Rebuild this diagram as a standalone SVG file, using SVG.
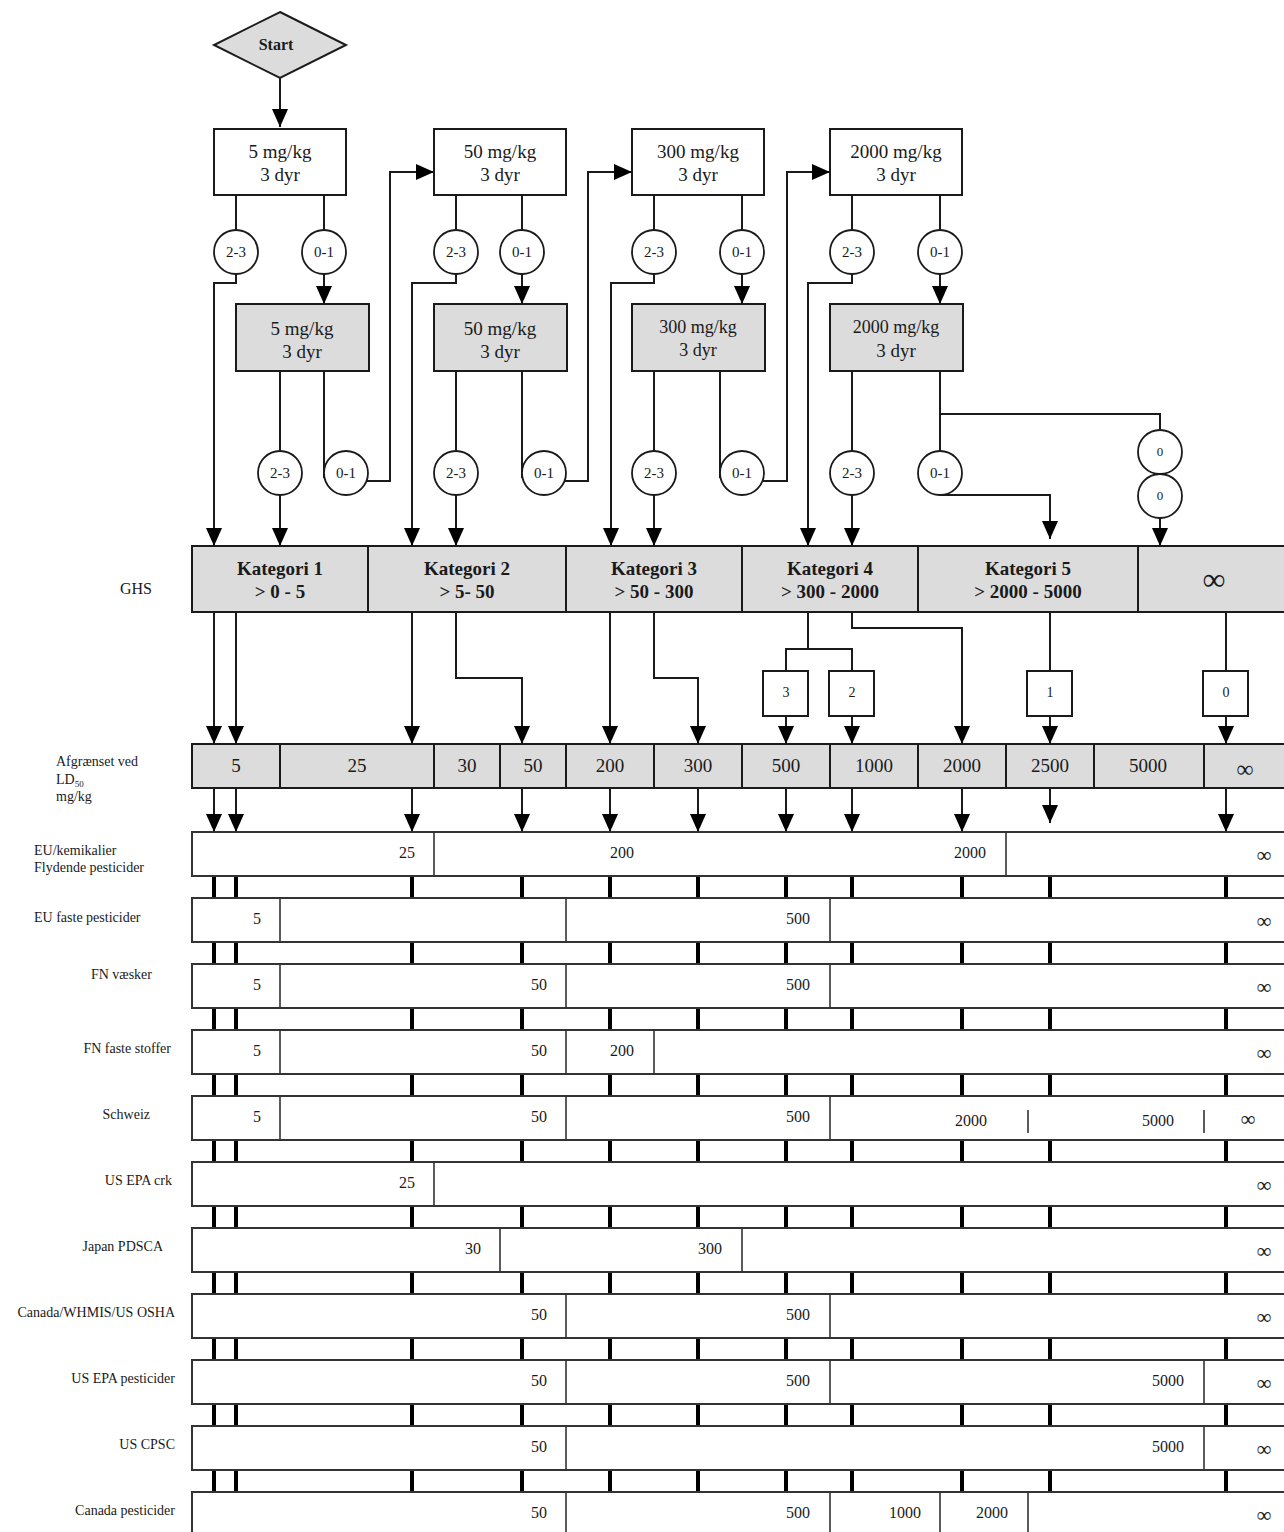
<svg xmlns="http://www.w3.org/2000/svg" width="1284" height="1532" viewBox="0 0 1284 1532">
<defs>
<marker id="ah" markerUnits="userSpaceOnUse" markerWidth="18" markerHeight="16" refX="18" refY="8" orient="auto"><path d="M0,0 L18,8 L0,16 z" fill="#000"/></marker>
<style>
text{font-family:"Liberation Serif","Times New Roman",serif;fill:#1a1a1a}
.b{font-weight:bold}
.m{text-anchor:middle}
.e{text-anchor:end}
.box{fill:#fff;stroke:#1a1a1a;stroke-width:2}
.gbox{fill:#dcdcdc;stroke:#1a1a1a;stroke-width:2}
.circ{fill:#fff;stroke:#1a1a1a;stroke-width:1.8}
.c{fill:none;stroke:#1a1a1a;stroke-width:2}
.ca{fill:none;stroke:#1a1a1a;stroke-width:2;marker-end:url(#ah)}
.tick{fill:none;stroke:#000;stroke-width:4}
.row{fill:#fff;stroke:#333;stroke-width:2}
.div{fill:none;stroke:#333;stroke-width:1.6}
.n19{font-size:19px}
.n16{font-size:16px}
.n14{font-size:14px}
.n13{font-size:15px}
.inf{font-size:21px}
</style>
</defs>
<rect width="1284" height="1532" fill="#fff"/>

<g id="connectors">
<path class="ca" d="M280,78 V127"/>
<path class="c" d="M236,195 V230 M324,195 V230"/>
<path class="ca" d="M236,274 V283 H214 V546"/>
<path class="ca" d="M324,274 V304"/>
<path class="c" d="M280,371 V451"/>
<path class="ca" d="M280,495 V546"/>
<path class="c" d="M324,371 V478"/>
<path class="ca" d="M366,481 H390 V172 H434"/>

<path class="c" d="M456,195 V230 M522,195 V230"/>
<path class="ca" d="M456,274 V283 H412 V546"/>
<path class="ca" d="M522,274 V304"/>
<path class="c" d="M456,371 V451"/>
<path class="ca" d="M456,495 V546"/>
<path class="c" d="M522,371 V478"/>
<path class="ca" d="M564,481 H588 V172 H632"/>

<path class="c" d="M654,195 V230 M742,195 V230"/>
<path class="ca" d="M654,274 V283 H611 V546"/>
<path class="ca" d="M742,274 V304"/>
<path class="c" d="M654,371 V451"/>
<path class="ca" d="M654,495 V546"/>
<path class="c" d="M720,371 V478"/>
<path class="ca" d="M762,481 H787 V172 H830"/>

<path class="c" d="M852,195 V230 M940,195 V230"/>
<path class="ca" d="M852,274 V283 H808 V546"/>
<path class="ca" d="M940,274 V304"/>
<path class="c" d="M852,371 V451"/>
<path class="ca" d="M852,495 V546"/>
<path class="c" d="M940,371 V451 M940,414 H1160 V430"/>
<path class="ca" d="M1160,518 V546"/>
<path class="ca" d="M940,495 H1050 V539"/>

<path class="ca" d="M214,612 V744"/>
<path class="ca" d="M236,612 V744"/>
<path class="ca" d="M412,612 V744"/>
<path class="ca" d="M456,612 V678 H522 V744"/>
<path class="ca" d="M610,612 V744"/>
<path class="ca" d="M654,612 V678 H698 V744"/>
<path class="c" d="M808,612 V649 M786,671 V649 H852 V671"/>
<path class="ca" d="M786,716 V744"/>
<path class="ca" d="M852,716 V744"/>
<path class="ca" d="M852,612 V628 H962 V744"/>
<path class="c" d="M1050,612 V671"/>
<path class="ca" d="M1050,716 V744"/>
<path class="c" d="M1226,612 V671"/>
<path class="ca" d="M1226,716 V744"/>

<path class="ca" d="M214,788 V832"/>
<path class="ca" d="M236,788 V832"/>
<path class="ca" d="M412,788 V832"/>
<path class="ca" d="M522,788 V832"/>
<path class="ca" d="M610,788 V832"/>
<path class="ca" d="M698,788 V832"/>
<path class="ca" d="M786,788 V832"/>
<path class="ca" d="M852,788 V832"/>
<path class="ca" d="M962,788 V832"/>
<path class="ca" d="M1050,788 V823"/>
<path class="ca" d="M1226,788 V832"/>
</g>

<g id="start">
<polygon points="280,12 346,45 280,78 214,45" fill="#dcdcdc" stroke="#1a1a1a" stroke-width="2"/>
<text x="276" y="50" class="m b" font-size="16">Start</text>
</g>

<g id="dose5">
<rect class="box" x="214" y="129" width="132" height="66"/>
<text x="280" y="158" class="m n19">5 mg/kg</text><text x="280" y="181" class="m n19">3 dyr</text>
</g>
<g id="dose50">
<rect class="box" x="434" y="129" width="132" height="66"/>
<text x="500" y="158" class="m n19">50 mg/kg</text><text x="500" y="181" class="m n19">3 dyr</text>
</g>
<g id="dose300">
<rect class="box" x="632" y="129" width="132" height="66"/>
<text x="698" y="158" class="m n19">300 mg/kg</text><text x="698" y="181" class="m n19">3 dyr</text>
</g>
<g id="dose2000">
<rect class="box" x="830" y="129" width="132" height="66"/>
<text x="896" y="158" class="m n19">2000 mg/kg</text><text x="896" y="181" class="m n19">3 dyr</text>
</g>

<g id="top-circles">
<circle class="circ" cx="236" cy="252" r="22"/><text x="236" y="257" class="m n13">2-3</text>
<circle class="circ" cx="324" cy="252" r="22"/><text x="324" y="257" class="m n13">0-1</text>
<circle class="circ" cx="456" cy="252" r="22"/><text x="456" y="257" class="m n13">2-3</text>
<circle class="circ" cx="522" cy="252" r="22"/><text x="522" y="257" class="m n13">0-1</text>
<circle class="circ" cx="654" cy="252" r="22"/><text x="654" y="257" class="m n13">2-3</text>
<circle class="circ" cx="742" cy="252" r="22"/><text x="742" y="257" class="m n13">0-1</text>
<circle class="circ" cx="852" cy="252" r="22"/><text x="852" y="257" class="m n13">2-3</text>
<circle class="circ" cx="940" cy="252" r="22"/><text x="940" y="257" class="m n13">0-1</text>
</g>

<g id="redose5">
<rect class="gbox" x="236" y="304" width="133" height="67"/>
<text x="302" y="335" class="m n19">5 mg/kg</text><text x="302" y="358" class="m n19">3 dyr</text>
</g>
<g id="redose50">
<rect class="gbox" x="434" y="304" width="133" height="67"/>
<text x="500" y="335" class="m n19">50 mg/kg</text><text x="500" y="358" class="m n19">3 dyr</text>
</g>
<g id="redose300">
<rect class="gbox" x="632" y="304" width="133" height="67"/>
<text x="698" y="333" class="m" font-size="18">300 mg/kg</text><text x="698" y="356" class="m" font-size="18">3 dyr</text>
</g>
<g id="redose2000">
<rect class="gbox" x="830" y="304" width="133" height="67"/>
<text x="896" y="333" class="m" font-size="18">2000 mg/kg</text><text x="896" y="357" class="m n19">3 dyr</text>
</g>

<g id="bottom-circles">
<circle class="circ" cx="280" cy="473" r="22"/><text x="280" y="478" class="m n13">2-3</text>
<circle class="circ" cx="346" cy="473" r="22"/><text x="346" y="478" class="m n13">0-1</text>
<circle class="circ" cx="456" cy="473" r="22"/><text x="456" y="478" class="m n13">2-3</text>
<circle class="circ" cx="544" cy="473" r="22"/><text x="544" y="478" class="m n13">0-1</text>
<circle class="circ" cx="654" cy="473" r="22"/><text x="654" y="478" class="m n13">2-3</text>
<circle class="circ" cx="742" cy="473" r="22"/><text x="742" y="478" class="m n13">0-1</text>
<circle class="circ" cx="852" cy="473" r="22"/><text x="852" y="478" class="m n13">2-3</text>
<circle class="circ" cx="940" cy="473" r="22"/><text x="940" y="478" class="m n13">0-1</text>
<circle class="circ" cx="1160" cy="452" r="22"/><text x="1160" y="456" class="m" font-size="13">0</text>
<circle class="circ" cx="1160" cy="496" r="22"/><text x="1160" y="500" class="m" font-size="13">0</text>
</g>

<g id="ghs">
<text x="152" y="594" class="e n16">GHS</text>
<rect class="gbox" x="192" y="546" width="176" height="66"/>
<rect class="gbox" x="368" y="546" width="198" height="66"/>
<rect class="gbox" x="566" y="546" width="176" height="66"/>
<rect class="gbox" x="742" y="546" width="176" height="66"/>
<rect class="gbox" x="918" y="546" width="220" height="66"/>
<rect class="gbox" x="1138" y="546" width="170" height="66"/>
<text x="280" y="575" class="m b n19">Kategori 1</text><text x="280" y="598" class="m b n19">&gt; 0 - 5</text>
<text x="467" y="575" class="m b n19">Kategori 2</text><text x="467" y="598" class="m b n19">&gt; 5- 50</text>
<text x="654" y="575" class="m b n19">Kategori 3</text><text x="654" y="598" class="m b n19">&gt; 50 - 300</text>
<text x="830" y="575" class="m b n19">Kategori 4</text><text x="830" y="598" class="m b n19">&gt; 300 - 2000</text>
<text x="1028" y="575" class="m b n19">Kategori 5</text><text x="1028" y="598" class="m b n19">&gt; 2000 - 5000</text>
<text x="1214" y="590" class="m" font-size="32">∞</text>
</g>

<g id="classes">
<rect class="box" x="763" y="671" width="45" height="45"/><text x="786" y="697" class="m n14">3</text>
<rect class="box" x="829" y="671" width="45" height="45"/><text x="852" y="697" class="m n14">2</text>
<rect class="box" x="1027" y="671" width="45" height="45"/><text x="1050" y="697" class="m n14">1</text>
<rect class="box" x="1203" y="671" width="45" height="45"/><text x="1226" y="697" class="m n14">0</text>
</g>

<g id="ld50">
<text x="56" y="766" class="n14">Afgrænset ved</text>
<text x="56" y="784" class="n14">LD<tspan font-size="9" dy="3">50</tspan></text>
<text x="56" y="801" class="n14">mg/kg</text>
<rect class="gbox" x="192" y="744" width="88" height="44"/>
<rect class="gbox" x="280" y="744" width="154" height="44"/>
<rect class="gbox" x="434" y="744" width="66" height="44"/>
<rect class="gbox" x="500" y="744" width="66" height="44"/>
<rect class="gbox" x="566" y="744" width="88" height="44"/>
<rect class="gbox" x="654" y="744" width="88" height="44"/>
<rect class="gbox" x="742" y="744" width="88" height="44"/>
<rect class="gbox" x="830" y="744" width="88" height="44"/>
<rect class="gbox" x="918" y="744" width="88" height="44"/>
<rect class="gbox" x="1006" y="744" width="88" height="44"/>
<rect class="gbox" x="1094" y="744" width="110" height="44"/>
<rect class="gbox" x="1204" y="744" width="104" height="44"/>
<text x="236" y="772" class="m n19">5</text>
<text x="357" y="772" class="m n19">25</text>
<text x="467" y="772" class="m n19">30</text>
<text x="533" y="772" class="m n19">50</text>
<text x="610" y="772" class="m n19">200</text>
<text x="698" y="772" class="m n19">300</text>
<text x="786" y="772" class="m n19">500</text>
<text x="874" y="772" class="m n19">1000</text>
<text x="962" y="772" class="m n19">2000</text>
<text x="1050" y="772" class="m n19">2500</text>
<text x="1148" y="772" class="m n19">5000</text>
<text x="1245" y="777" class="m" font-size="24">∞</text>
</g>

<g id="ticks">
<path class="tick" d="M214,876V898M236,876V898M412,876V898M522,876V898M610,876V898M698,876V898M786,876V898M852,876V898M962,876V898M1050,876V898M1226,876V898
M214,942V964M236,942V964M412,942V964M522,942V964M610,942V964M698,942V964M786,942V964M852,942V964M962,942V964M1050,942V964M1226,942V964
M214,1008V1030M236,1008V1030M412,1008V1030M522,1008V1030M610,1008V1030M698,1008V1030M786,1008V1030M852,1008V1030M962,1008V1030M1050,1008V1030M1226,1008V1030
M214,1074V1096M236,1074V1096M412,1074V1096M522,1074V1096M610,1074V1096M698,1074V1096M786,1074V1096M852,1074V1096M962,1074V1096M1050,1074V1096M1226,1074V1096
M214,1140V1162M236,1140V1162M412,1140V1162M522,1140V1162M610,1140V1162M698,1140V1162M786,1140V1162M852,1140V1162M962,1140V1162M1050,1140V1162M1226,1140V1162
M214,1206V1228M236,1206V1228M412,1206V1228M522,1206V1228M610,1206V1228M698,1206V1228M786,1206V1228M852,1206V1228M962,1206V1228M1050,1206V1228M1226,1206V1228
M214,1272V1294M236,1272V1294M412,1272V1294M522,1272V1294M610,1272V1294M698,1272V1294M786,1272V1294M852,1272V1294M962,1272V1294M1050,1272V1294M1226,1272V1294
M214,1338V1360M236,1338V1360M412,1338V1360M522,1338V1360M610,1338V1360M698,1338V1360M786,1338V1360M852,1338V1360M962,1338V1360M1050,1338V1360M1226,1338V1360
M214,1404V1426M236,1404V1426M412,1404V1426M522,1404V1426M610,1404V1426M698,1404V1426M786,1404V1426M852,1404V1426M962,1404V1426M1050,1404V1426M1226,1404V1426
M214,1470V1492M236,1470V1492M412,1470V1492M522,1470V1492M610,1470V1492M698,1470V1492M786,1470V1492M852,1470V1492M962,1470V1492M1050,1470V1492M1226,1470V1492"/>
</g>

<g id="row-eu-kemikalier">
<text x="34" y="855" class="n14">EU/kemikalier</text>
<text x="34" y="872" class="n14">Flydende pesticider</text>
<rect class="row" x="192" y="832" width="1120" height="44"/>
<path class="div" d="M434,832V876M1006,832V876"/>
<text x="407" y="858" class="m n16">25</text>
<text x="622" y="858" class="m n16">200</text>
<text x="970" y="858" class="m n16">2000</text>
<text x="1264" y="862" class="m inf">∞</text>
</g>

<g id="row-eu-faste">
<text x="34" y="922" class="n14">EU faste pesticider</text>
<rect class="row" x="192" y="898" width="1120" height="44"/>
<path class="div" d="M280,898V942M566,898V942M830,898V942"/>
<text x="257" y="924" class="m n16">5</text>
<text x="798" y="924" class="m n16">500</text>
<text x="1264" y="928" class="m inf">∞</text>
</g>

<g id="row-fn-vaesker">
<text x="152" y="979" class="e n14">FN væsker</text>
<rect class="row" x="192" y="964" width="1120" height="44"/>
<path class="div" d="M280,964V1008M566,964V1008M830,964V1008"/>
<text x="257" y="990" class="m n16">5</text>
<text x="539" y="990" class="m n16">50</text>
<text x="798" y="990" class="m n16">500</text>
<text x="1264" y="994" class="m inf">∞</text>
</g>

<g id="row-fn-faste">
<text x="171" y="1053" class="e n14">FN faste stoffer</text>
<rect class="row" x="192" y="1030" width="1120" height="44"/>
<path class="div" d="M280,1030V1074M566,1030V1074M654,1030V1074"/>
<text x="257" y="1056" class="m n16">5</text>
<text x="539" y="1056" class="m n16">50</text>
<text x="622" y="1056" class="m n16">200</text>
<text x="1264" y="1060" class="m inf">∞</text>
</g>

<g id="row-schweiz">
<text x="150" y="1119" class="e n14">Schweiz</text>
<rect class="row" x="192" y="1096" width="1120" height="44"/>
<path class="div" d="M280,1096V1140M566,1096V1140M830,1096V1140M1028,1110V1133M1204,1110V1133"/>
<text x="257" y="1122" class="m n16">5</text>
<text x="539" y="1122" class="m n16">50</text>
<text x="798" y="1122" class="m n16">500</text>
<text x="971" y="1126" class="m n16">2000</text>
<text x="1158" y="1126" class="m n16">5000</text>
<text x="1248" y="1126" class="m inf">∞</text>
</g>

<g id="row-us-epa-crk">
<text x="172" y="1185" class="e n14">US EPA crk</text>
<rect class="row" x="192" y="1162" width="1120" height="44"/>
<path class="div" d="M434,1162V1206"/>
<text x="407" y="1188" class="m n16">25</text>
<text x="1264" y="1192" class="m inf">∞</text>
</g>

<g id="row-japan">
<text x="163" y="1251" class="e n14">Japan PDSCA</text>
<rect class="row" x="192" y="1228" width="1120" height="44"/>
<path class="div" d="M500,1228V1272M742,1228V1272"/>
<text x="473" y="1254" class="m n16">30</text>
<text x="710" y="1254" class="m n16">300</text>
<text x="1264" y="1258" class="m inf">∞</text>
</g>

<g id="row-canada-whmis">
<text x="175" y="1317" class="e n14">Canada/WHMIS/US OSHA</text>
<rect class="row" x="192" y="1294" width="1120" height="44"/>
<path class="div" d="M566,1294V1338M830,1294V1338"/>
<text x="539" y="1320" class="m n16">50</text>
<text x="798" y="1320" class="m n16">500</text>
<text x="1264" y="1324" class="m inf">∞</text>
</g>

<g id="row-us-epa-pesticider">
<text x="175" y="1383" class="e n14">US EPA pesticider</text>
<rect class="row" x="192" y="1360" width="1120" height="44"/>
<path class="div" d="M566,1360V1404M830,1360V1404M1204,1360V1404"/>
<text x="539" y="1386" class="m n16">50</text>
<text x="798" y="1386" class="m n16">500</text>
<text x="1168" y="1386" class="m n16">5000</text>
<text x="1264" y="1390" class="m inf">∞</text>
</g>

<g id="row-us-cpsc">
<text x="175" y="1449" class="e n14">US CPSC</text>
<rect class="row" x="192" y="1426" width="1120" height="44"/>
<path class="div" d="M566,1426V1470M1204,1426V1470"/>
<text x="539" y="1452" class="m n16">50</text>
<text x="1168" y="1452" class="m n16">5000</text>
<text x="1264" y="1456" class="m inf">∞</text>
</g>

<g id="row-canada-pesticider">
<text x="175" y="1515" class="e n14">Canada pesticider</text>
<rect class="row" x="192" y="1492" width="1120" height="44"/>
<path class="div" d="M566,1492V1536M830,1492V1536M940,1492V1536M1028,1492V1536"/>
<text x="539" y="1518" class="m n16">50</text>
<text x="798" y="1518" class="m n16">500</text>
<text x="905" y="1518" class="m n16">1000</text>
<text x="992" y="1518" class="m n16">2000</text>
<text x="1264" y="1522" class="m inf">∞</text>
</g>
</svg>
